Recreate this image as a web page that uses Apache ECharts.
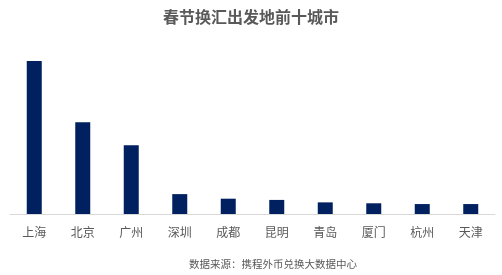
<!DOCTYPE html>
<html>
<head>
<meta charset="utf-8">
<script src="https://cdn.jsdelivr.net/npm/echarts@6/dist/echarts.min.js"></script>
<style>html,body{margin:0;padding:0;background:#fff}#c{width:502px;height:275px}</style>
</head>
<body>
<div id="c"></div>
<script>
const categories = ['上海','北京','广州','深圳','成都','昆明','青岛','厦门','杭州','天津'];
const values = [100, 60, 45, 13, 10, 9.2, 7.6, 7, 6.5, 6.5];
const titleText = '春节换汇出发地前十城市';
const sourceText = '数据来源：携程外币兑换大数据中心';

const chart = echarts.init(document.getElementById('c'));
chart.setOption({
  animation: false,
  title: [
    { text: titleText, left: 'center', top: 9, padding: 0,
      textStyle: { fontFamily: 'Noto Sans CJK SC', fontSize: 16, fontWeight: 'bold', color: '#595959' } },
    { text: sourceText, left: 189, top: 259, padding: 0,
      textStyle: { fontFamily: 'Noto Sans CJK SC', fontSize: 10.5, fontWeight: 'normal', color: '#595959' } }
  ],
  grid: { left: 10, right: 7, top: 61, bottom: 61, containLabel: false },
  xAxis: {
    type: 'category', data: categories,
    axisLine: { lineStyle: { color: '#d9d9d9', width: 1 } },
    axisTick: { show: false },
    axisLabel: { color: '#595959', fontFamily: 'Noto Sans CJK SC', fontSize: 12, margin: 12 }
  },
  yAxis: { type: 'value', min: 0, max: 100, show: false, splitLine: { show: false } },
  series: [{
    type: 'bar', data: values, barWidth: 15,
    itemStyle: { color: '#002060' }
  }]
});
</script>
</body>
</html>
